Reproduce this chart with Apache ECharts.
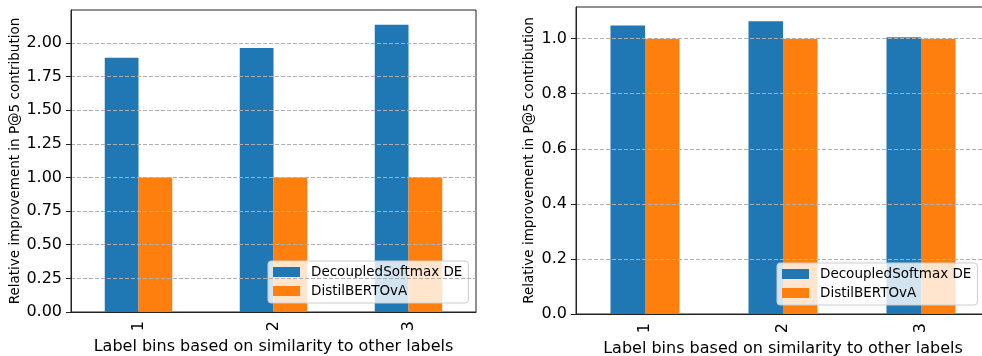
<!DOCTYPE html>
<html><head><meta charset="utf-8">
<script src="https://cdn.jsdelivr.net/npm/echarts@6/dist/echarts.min.js"></script>
<style>html,body{margin:0;padding:0;background:#fff}#c{width:982px;height:356px}</style>
</head><body><div id="c"></div>
<script>
const categories = ['1', '2', '3'];
const seriesNames = ['DecoupledSoftmax DE', 'DistilBERTOvA'];
const leftDecoupled = [1.89, 1.962, 2.135];
const leftDistil = [1.0, 1.0, 1.0];
const rightDecoupled = [1.048, 1.063, 1.005];
const rightDistil = [1.0, 1.0, 1.0];
const xName = 'Label bins based on similarity to other labels';
const yName = 'Relative improvement in P@5 contribution';

const F = 'DejaVu Sans';
const blue = '#1f77b4', orange = '#ff7f0e';
const chart = echarts.init(document.getElementById('c'), null, {renderer: 'canvas'});

function xAxis(idx, gap) {
  return {
    type: 'category', gridIndex: idx, data: categories, z: 11,
    name: xName, nameLocation: 'middle', nameGap: gap,
    nameTextStyle: {fontFamily: F, fontSize: 16, color: '#000'},
    axisLine: {lineStyle: {color: '#222', width: 1}},
    axisTick: {alignWithLabel: true, length: 5, lineStyle: {color: '#222'}},
    axisLabel: {rotate: 90, fontFamily: F, fontSize: 16, color: '#000', margin: 9},
    splitLine: {show: false}
  };
}
function yAxis(idx, max, interval, dec, gap) {
  return {
    type: 'value', gridIndex: idx, min: 0, max: max, interval: interval, z: 10,
    name: yName, nameLocation: 'middle', nameGap: gap,
    nameTextStyle: {fontFamily: F, fontSize: 13.5, color: '#000'},
    axisLine: {show: true, lineStyle: {color: '#222', width: 1}},
    axisTick: {show: true, length: 5, lineStyle: {color: '#222'}},
    axisLabel: {fontFamily: F, fontSize: 16, color: '#000', margin: 9, showMaxLabel: false,
      formatter: v => v.toFixed(dec)},
    splitLine: {show: true, showMinLine: false, showMaxLine: false,
      lineStyle: {color: '#b0b0b0', type: [4, 2], width: 1}}
  };
}
function legend(left, top) {
  return {
    orient: 'vertical', left: left, top: top,
    data: seriesNames,
    itemWidth: 27, itemHeight: 10, itemGap: 5,
    padding: [4, 6, 5, 5],
    backgroundColor: 'rgba(255,255,255,0.8)', borderColor: '#ccc', borderWidth: 1, borderRadius: 3,
    textStyle: {fontFamily: F, fontSize: 13.5, color: '#000', padding: [0, 0, 0, 6]},
    icon: 'rect'
  };
}
function bar(name, data, color, idx) {
  return {type: 'bar', name: name, data: data, xAxisIndex: idx, yAxisIndex: idx,
    barWidth: '25%', barGap: '0%', itemStyle: {color: color}, animation: false};
}

chart.setOption({
  animation: false,
  grid: [
    {left: 71, top: 10, width: 405, height: 302, show: true, borderColor: '#222', borderWidth: 1,
     backgroundColor: 'transparent', containLabel: false, outerBoundsMode: 'none'},
    {left: 576, top: 7, width: 414, height: 307, show: true, borderColor: '#222', borderWidth: 1,
     backgroundColor: 'transparent', containLabel: false, outerBoundsMode: 'none'}
  ],
  legend: [legend(268, 261), legend(777, 263)],
  xAxis: [xAxis(0, 22), xAxis(1, 24)],
  yAxis: [yAxis(0, 2.245, 0.25, 2, 48), yAxis(1, 1.115, 0.2, 1, 40)],
  series: [
    bar(seriesNames[0], leftDecoupled, blue, 0),
    bar(seriesNames[1], leftDistil, orange, 0),
    bar(seriesNames[0], rightDecoupled, blue, 1),
    bar(seriesNames[1], rightDistil, orange, 1)
  ]
});
</script></body></html>
